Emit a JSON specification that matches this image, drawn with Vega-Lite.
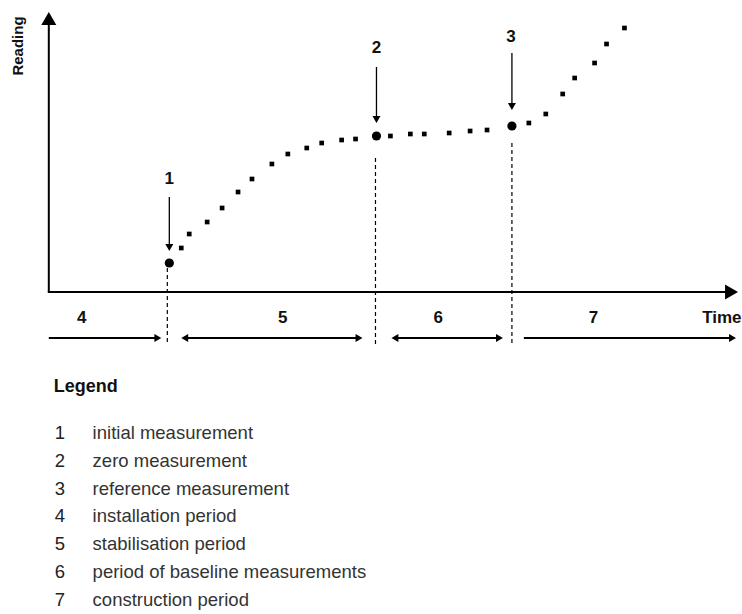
{
  "$schema": "https://vega.github.io/schema/vega-lite/v6.json",
  "width": 742,
  "height": 614,
  "padding": 0,
  "autosize": {"type": "fit", "contains": "padding"},
  "background": "white",
  "config": {"view": {"stroke": null}, "font": "Liberation Sans"},
  "datasets": {
    "solid": [
      {"x": 49, "y": 292, "x2": 49, "y2": 24, "w": 2},
      {"x": 48, "y": 292, "x2": 730, "y2": 292, "w": 2},
      {"x": 49, "y": 338, "x2": 157, "y2": 338, "w": 2},
      {"x": 187, "y": 338, "x2": 359, "y2": 338, "w": 2},
      {"x": 397, "y": 338, "x2": 500, "y2": 338, "w": 2},
      {"x": 526, "y": 338, "x2": 733, "y2": 338, "w": 2},
      {"x": 170, "y": 197, "x2": 170, "y2": 246, "w": 1.3},
      {"x": 378, "y": 67, "x2": 378, "y2": 118, "w": 1.3},
      {"x": 514, "y": 53, "x2": 514, "y2": 105, "w": 1.3}
    ],
    "dashed": [
      {"x": 168, "y": 268, "x2": 168, "y2": 344},
      {"x": 377, "y": 158, "x2": 377, "y2": 344},
      {"x": 514, "y": 143, "x2": 514, "y2": 344}
    ],
    "heads": [
      {"x": 49, "y": 18.5, "shape": "triangle-up", "s": 225},
      {"x": 734.5, "y": 292, "shape": "triangle-right", "s": 225},
      {"x": 170, "y": 247.5, "shape": "triangle-down", "s": 64},
      {"x": 378, "y": 119.5, "shape": "triangle-down", "s": 64},
      {"x": 514, "y": 106.5, "shape": "triangle-down", "s": 64},
      {"x": 158.5, "y": 338, "shape": "triangle-right", "s": 64},
      {"x": 185.5, "y": 338, "shape": "triangle-left", "s": 64},
      {"x": 360.5, "y": 338, "shape": "triangle-right", "s": 64},
      {"x": 396.5, "y": 338, "shape": "triangle-left", "s": 64},
      {"x": 501.5, "y": 338, "shape": "triangle-right", "s": 64},
      {"x": 735.5, "y": 338, "shape": "triangle-right", "s": 64}
    ],
    "readings": [
      {"x": 182, "y": 248}, {"x": 190, "y": 234}, {"x": 208, "y": 222},
      {"x": 223, "y": 208}, {"x": 239, "y": 192}, {"x": 253, "y": 179},
      {"x": 273, "y": 164}, {"x": 289, "y": 154}, {"x": 308, "y": 148},
      {"x": 323, "y": 143}, {"x": 343, "y": 140}, {"x": 357, "y": 139},
      {"x": 392, "y": 136}, {"x": 412, "y": 134}, {"x": 426, "y": 134},
      {"x": 451, "y": 133}, {"x": 472, "y": 131}, {"x": 489, "y": 130},
      {"x": 531, "y": 123}, {"x": 548, "y": 114}, {"x": 565, "y": 94},
      {"x": 577, "y": 78}, {"x": 597, "y": 63}, {"x": 609, "y": 44},
      {"x": 627, "y": 28}
    ],
    "measurements": [
      {"x": 170, "y": 263}, {"x": 378, "y": 136}, {"x": 514, "y": 126}
    ],
    "boldLabels": [
      {"x": 170, "y": 179, "t": "1"},
      {"x": 378, "y": 48, "t": "2"},
      {"x": 513, "y": 37, "t": "3"},
      {"x": 82, "y": 318, "t": "4"},
      {"x": 284, "y": 318, "t": "5"},
      {"x": 440, "y": 318, "t": "6"},
      {"x": 596, "y": 318, "t": "7"}
    ],
    "legendNums": [
      {"x": 55, "y": 433, "t": "1"},
      {"x": 55, "y": 461, "t": "2"},
      {"x": 55, "y": 489, "t": "3"},
      {"x": 55, "y": 516, "t": "4"},
      {"x": 55, "y": 544, "t": "5"},
      {"x": 55, "y": 572, "t": "6"},
      {"x": 55, "y": 600, "t": "7"}
    ],
    "legendText": [
      {"x": 93, "y": 433, "t": "initial measurement"},
      {"x": 93, "y": 461, "t": "zero measurement"},
      {"x": 93, "y": 489, "t": "reference measurement"},
      {"x": 93, "y": 516, "t": "installation period"},
      {"x": 93, "y": 544, "t": "stabilisation period"},
      {"x": 93, "y": 572, "t": "period of baseline measurements"},
      {"x": 93, "y": 600, "t": "construction period"}
    ]
  },
  "encoding": {
    "x": {"field": "x", "type": "quantitative", "scale": {"domain": [0, 742], "nice": false, "zero": false}, "axis": null},
    "y": {"field": "y", "type": "quantitative", "scale": {"domain": [0, 614], "nice": false, "zero": false, "reverse": true}, "axis": null}
  },
  "layer": [
    {
      "data": {"name": "solid"},
      "mark": {"type": "rule", "color": "black"},
      "encoding": {
        "x2": {"field": "x2"},
        "y2": {"field": "y2"},
        "strokeWidth": {"field": "w", "type": "quantitative", "scale": null}
      }
    },
    {
      "data": {"name": "dashed"},
      "mark": {"type": "rule", "color": "black", "strokeWidth": 1.2, "strokeDash": [4, 3]},
      "encoding": {
        "x2": {"field": "x2"},
        "y2": {"field": "y2"}
      }
    },
    {
      "data": {"name": "heads"},
      "mark": {"type": "point", "filled": true, "color": "black", "opacity": 1},
      "encoding": {
        "shape": {"field": "shape", "type": "nominal", "scale": null},
        "size": {"field": "s", "type": "quantitative", "scale": null}
      }
    },
    {
      "data": {"name": "readings"},
      "mark": {"type": "square", "filled": true, "color": "black", "opacity": 1, "size": 22}
    },
    {
      "data": {"name": "measurements"},
      "mark": {"type": "circle", "color": "black", "opacity": 1, "size": 85}
    },
    {
      "data": {"name": "boldLabels"},
      "mark": {"type": "text", "fontSize": 17, "fontWeight": "bold", "color": "#111111", "align": "center", "baseline": "middle"},
      "encoding": {"text": {"field": "t"}}
    },
    {
      "data": {"values": [{"x": 705, "y": 318, "t": "Time"}]},
      "mark": {"type": "text", "fontSize": 17, "fontWeight": "bold", "color": "#111111", "align": "left", "baseline": "middle"},
      "encoding": {"text": {"field": "t"}}
    },
    {
      "data": {"values": [{"x": 18, "y": 46, "t": "Reading"}]},
      "mark": {"type": "text", "fontSize": 15, "fontWeight": "bold", "color": "#111111", "align": "center", "baseline": "middle", "angle": 270},
      "encoding": {"text": {"field": "t"}}
    },
    {
      "data": {"values": [{"x": 54, "y": 387, "t": "Legend"}]},
      "mark": {"type": "text", "fontSize": 18, "fontWeight": "bold", "color": "#111111", "align": "left", "baseline": "middle"},
      "encoding": {"text": {"field": "t"}}
    },
    {
      "data": {"name": "legendNums"},
      "mark": {"type": "text", "fontSize": 18.5, "color": "#222222", "align": "left", "baseline": "middle"},
      "encoding": {"text": {"field": "t"}}
    },
    {
      "data": {"name": "legendText"},
      "mark": {"type": "text", "fontSize": 18.5, "color": "#333333", "align": "left", "baseline": "middle"},
      "encoding": {"text": {"field": "t"}}
    }
  ]
}
